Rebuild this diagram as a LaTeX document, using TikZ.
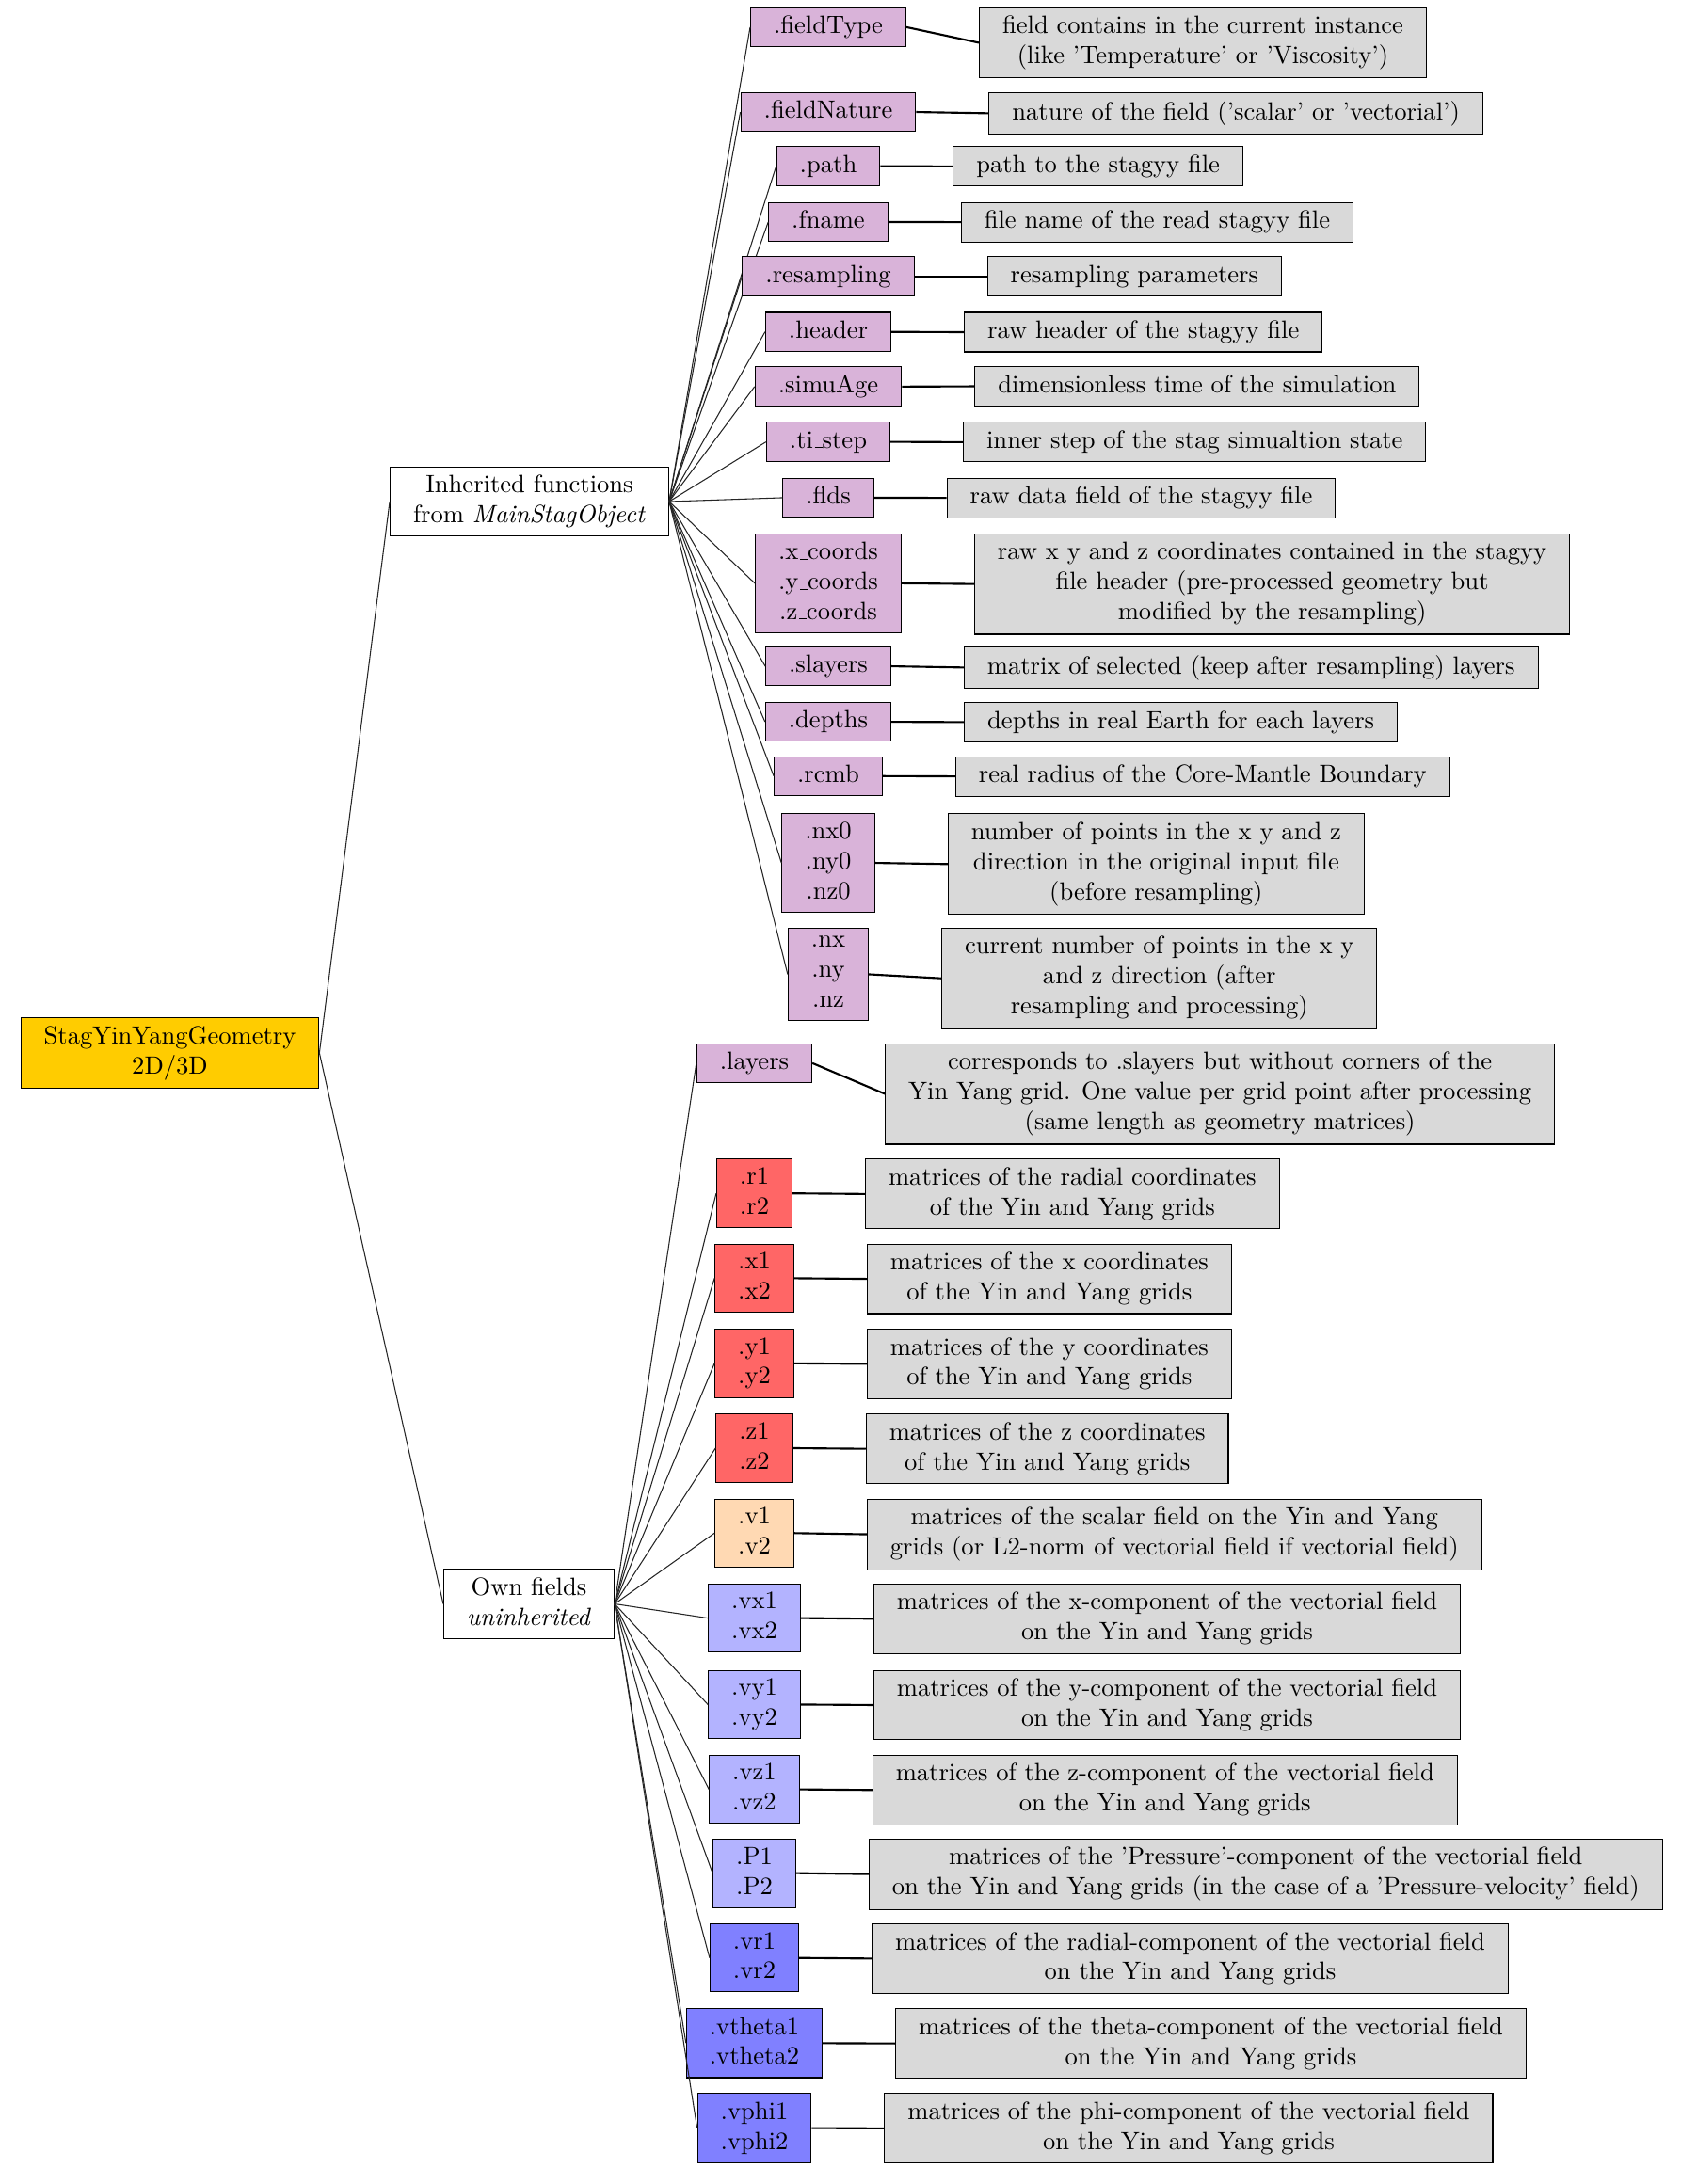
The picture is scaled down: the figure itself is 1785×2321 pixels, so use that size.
\documentclass[tikz,border=0pt]{standalone}
\usepackage{tikz}
\definecolor{fieldpurple}{RGB}{217,179,217}
\definecolor{fieldred}{RGB}{255,102,102}
\definecolor{fieldpeach}{RGB}{255,217,179}
\definecolor{fieldlblue}{RGB}{179,179,255}
\definecolor{fielddblue}{RGB}{128,128,255}
\definecolor{descgray}{RGB}{217,217,217}
\definecolor{rootyellow}{RGB}{255,204,0}
\newcommand{\mystrut}{\rule[-1.94pt]{0pt}{8.88pt}}
\newcommand{\us}{\leavevmode\kern.06em\vbox{\hrule width.3em}}
\newcommand{\fieldrow}[7]{%
  \node[#2, anchor=north] (#1) at (#3,#4) {#5};
  \node[descbox, anchor=north west] (#1d) at ([xshift=28.95pt]#1.north east) {#6};
  \draw[desclink] (#1.east) -- (#1d.west);
  \draw[treeedge] (#7.east) -- (#1.west);
}
\tikzset{
  boxbase/.style={draw=black, line width=0.4pt, align=center, inner xsep=9.2pt, inner ysep=3.33pt,
    execute at begin node=\mystrut, execute at end node=\mystrut},
  rootbox/.style={boxbase, fill=rootyellow},
  groupbox/.style={boxbase, fill=white},
  fpurple/.style={boxbase, fill=fieldpurple},
  fred/.style={boxbase, fill=fieldred},
  fpeach/.style={boxbase, fill=fieldpeach},
  flblue/.style={boxbase, fill=fieldlblue},
  fdblue/.style={boxbase, fill=fielddblue},
  descbox/.style={boxbase, fill=descgray},
  desclink/.style={draw=black, line width=0.8pt},
  treeedge/.style={draw=black!85, line width=0.4pt},
}
\begin{document}
\begin{tikzpicture}[x=0.376pt, y=-0.376pt]
\useasboundingbox (0,0) rectangle (1785,2321);

\node[rootbox] (root) at (180.5,1119) {StagYinYangGeometry\\2D/3D};
\node[groupbox] (inh) at (562.5,533) {Inherited functions\\from \textit{MainStagObject}};
\node[groupbox] (own) at (562,1704.5) {Own fields\\\textit{uninherited}};
\draw[treeedge] (root.east) -- (inh.west);
\draw[treeedge] (root.east) -- (own.west);

\fieldrow{fT}{fpurple}{880}{7.4}{.fieldType}{field contains in the current instance\\(like 'Temperature' or 'Viscosity')}{inh}
\fieldrow{fN}{fpurple}{880}{97.7}{.fieldNature}{nature of the field ('scalar' or 'vectorial')}{inh}
\fieldrow{pa}{fpurple}{880}{155.4}{.path}{path to the stagyy file}{inh}
\fieldrow{fn}{fpurple}{880}{214.6}{.fname}{file name of the read stagyy file}{inh}
\fieldrow{rs}{fpurple}{880}{272.3}{.resampling}{resampling parameters}{inh}
\fieldrow{hd}{fpurple}{880}{331.5}{.header}{raw header of the stagyy file}{inh}
\fieldrow{sa}{fpurple}{880}{389.2}{.simuAge}{dimensionless time of the simulation}{inh}
\fieldrow{ts}{fpurple}{880}{448.4}{.ti\us step}{inner step of the stag simualtion state}{inh}
\fieldrow{fl}{fpurple}{880}{507.6}{.flds}{raw data field of the stagyy file}{inh}
\fieldrow{co}{fpurple}{880}{566.8}{.x\us coords\\.y\us coords\\.z\us coords}{raw x y and z coordinates contained in the stagyy\\file header (pre-processed geometry but\\modified by the resampling)}{inh}
\fieldrow{sl}{fpurple}{880}{686.7}{.slayers}{matrix of selected (keep after resampling) layers}{inh}
\fieldrow{de}{fpurple}{880}{745.9}{.depths}{depths in real Earth for each layers}{inh}
\fieldrow{rc}{fpurple}{880}{803.6}{.rcmb}{real radius of the Core-Mantle Boundary}{inh}
\fieldrow{nz}{fpurple}{880}{864.3}{.nx0\\.ny0\\.nz0}{number of points in the x y and z\\direction in the original input file\\(before resampling)}{inh}
\fieldrow{nn}{fpurple}{880}{985.7}{.nx\\.ny\\.nz}{current number of points in the x y\\and z direction (after\\resampling and processing)}{inh}

\fieldrow{la}{fpurple}{801.5}{1108.5}{.layers}{corresponds to .slayers but without corners of the\\Yin Yang grid. One value per grid point after processing\\(same length as geometry matrices)}{own}
\fieldrow{rr}{fred}{801.5}{1231.4}{.r1\\.r2}{matrices of the radial coordinates\\of the Yin and Yang grids}{own}
\fieldrow{xx}{fred}{801.5}{1321.6}{.x1\\.x2}{matrices of the x coordinates\\of the Yin and Yang grids}{own}
\fieldrow{yy}{fred}{801.5}{1411.9}{.y1\\.y2}{matrices of the y coordinates\\of the Yin and Yang grids}{own}
\fieldrow{zz}{fred}{801.5}{1502.2}{.z1\\.z2}{matrices of the z coordinates\\of the Yin and Yang grids}{own}
\fieldrow{vv}{fpeach}{801.5}{1592.5}{.v1\\.v2}{matrices of the scalar field on the Yin and Yang\\grids (or L2-norm of vectorial field if vectorial field)}{own}
\fieldrow{vx}{flblue}{801.5}{1682.8}{.vx1\\.vx2}{matrices of the x-component of the vectorial field\\on the Yin and Yang grids}{own}
\fieldrow{vy}{flblue}{801.5}{1774.5}{.vy1\\.vy2}{matrices of the y-component of the vectorial field\\on the Yin and Yang grids}{own}
\fieldrow{vz}{flblue}{801.5}{1864.8}{.vz1\\.vz2}{matrices of the z-component of the vectorial field\\on the Yin and Yang grids}{own}
\fieldrow{pp}{flblue}{801.5}{1953.6}{.P1\\.P2}{matrices of the 'Pressure'-component of the vectorial field\\on the Yin and Yang grids (in the case of a 'Pressure-velocity' field)}{own}
\fieldrow{vr}{fdblue}{801.5}{2043.9}{.vr1\\.vr2}{matrices of the radial-component of the vectorial field\\on the Yin and Yang grids}{own}
\fieldrow{vt}{fdblue}{801.5}{2134.2}{.vtheta1\\.vtheta2}{matrices of the theta-component of the vectorial field\\on the Yin and Yang grids}{own}
\fieldrow{vp}{fdblue}{801.5}{2224.4}{.vphi1\\.vphi2}{matrices of the phi-component of the vectorial field\\on the Yin and Yang grids}{own}
\end{tikzpicture}
\end{document}
